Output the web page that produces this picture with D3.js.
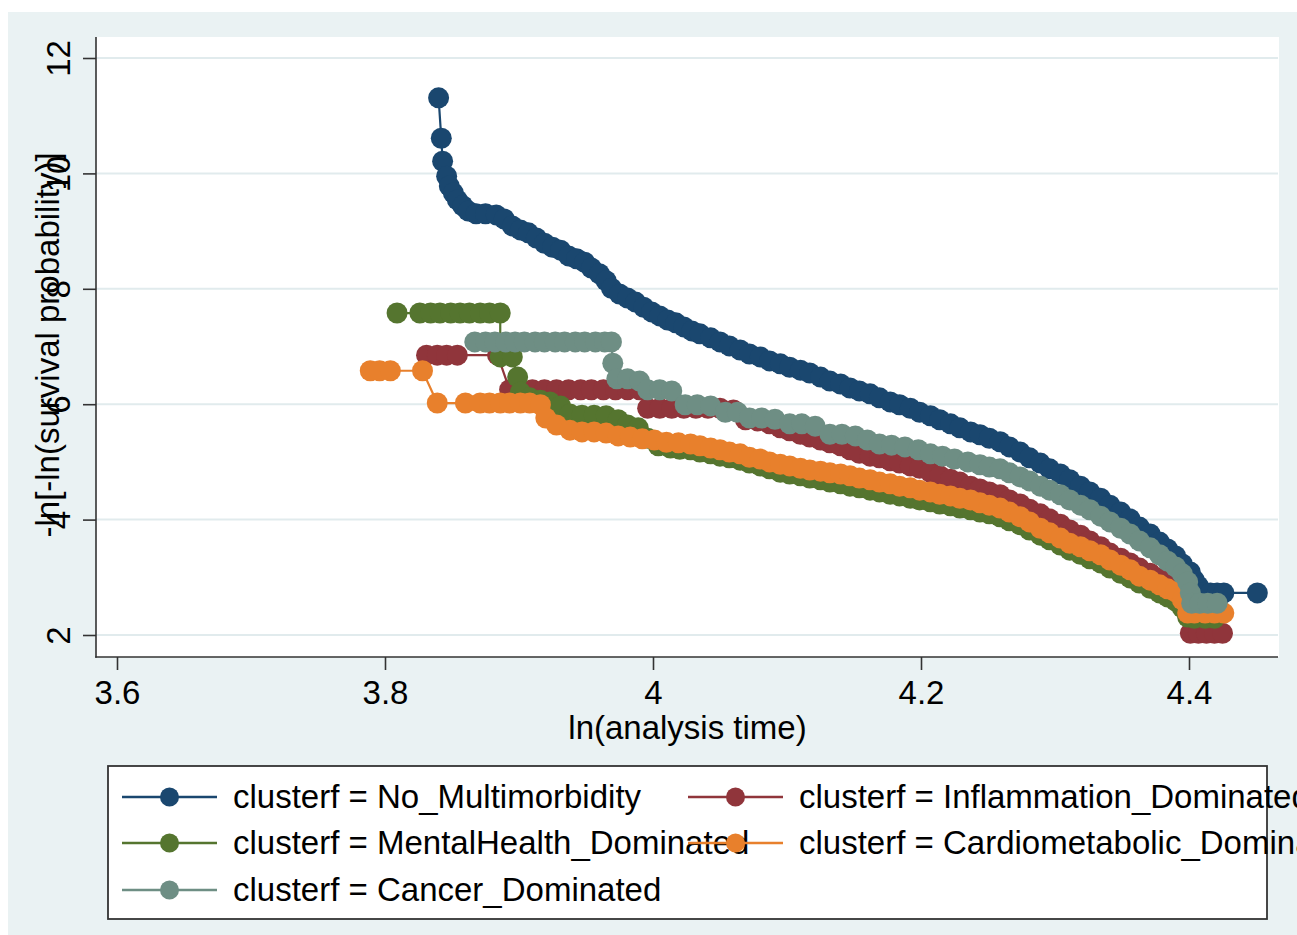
<!DOCTYPE html>
<html>
<head>
<meta charset="utf-8">
<script src="https://cdn.jsdelivr.net/npm/d3@7"></script>
<style>
  html, body { margin: 0; padding: 0; background: #ffffff; }
  svg { display: block; font-family: "Liberation Sans", Arial, Helvetica, sans-serif; }
</style>
</head>
<body>
<svg id="chart" width="1297" height="935"></svg>
<script>
// Log-log survival curves by multimorbidity cluster: [ln(analysis time), -ln(-ln(S))]
const clusterLabels = [
  "clusterf = No_Multimorbidity",
  "clusterf = Inflammation_Dominated",
  "clusterf = MentalHealth_Dominated",
  "clusterf = Cardiometabolic_Dominated",
  "clusterf = Cancer_Dominated"
];

const noMultimorbidity = [
  [3.840,11.31],[3.842,10.61],[3.843,10.21],[3.846,9.95],[3.848,9.78],[3.851,9.66],[3.854,9.54],
  [3.858,9.44],[3.862,9.35],[3.868,9.30],[3.875,9.30],[3.883,9.28],[3.889,9.21],[3.895,9.09],
  [3.901,9.02],[3.907,8.97],[3.913,8.88],[3.919,8.79],[3.925,8.72],[3.931,8.67],[3.937,8.57],
  [3.943,8.52],[3.949,8.46],[3.954,8.36],[3.960,8.26],[3.965,8.14],[3.969,8.01],[3.975,7.91],
  [3.981,7.84],[3.987,7.77],[3.993,7.68],[3.999,7.60],[4.005,7.53],[4.011,7.46],[4.017,7.41],
  [4.023,7.34],[4.029,7.27],[4.035,7.22],[4.043,7.15],[4.050,7.08],[4.057,7.01],[4.065,6.94],
  [4.072,6.87],[4.080,6.82],[4.087,6.75],[4.095,6.70],[4.102,6.64],[4.110,6.59],[4.117,6.54],
  [4.125,6.47],[4.132,6.40],[4.140,6.35],[4.147,6.28],[4.154,6.23],[4.162,6.18],[4.169,6.11],
  [4.177,6.04],[4.184,5.99],[4.192,5.93],[4.199,5.86],[4.207,5.80],[4.214,5.73],[4.222,5.66],
  [4.229,5.59],[4.237,5.52],[4.244,5.47],[4.251,5.41],[4.259,5.35],[4.266,5.26],[4.274,5.17],
  [4.281,5.07],[4.289,4.98],[4.296,4.88],[4.304,4.79],[4.311,4.69],[4.319,4.58],[4.326,4.48],
  [4.334,4.37],[4.341,4.25],[4.349,4.13],[4.356,4.01],[4.363,3.87],[4.371,3.75],[4.378,3.61],
  [4.384,3.49],[4.390,3.37],[4.395,3.23],[4.401,3.09],[4.404,2.95],[4.407,2.85],[4.410,2.73],
  [4.416,2.73],[4.421,2.73],[4.426,2.73],[4.451,2.73]
];

const inflammationDominated = [
  [3.831,6.85],[3.839,6.85],[3.846,6.85],[3.854,6.85],[3.884,6.85],[3.893,6.25],[3.901,6.25],
  [3.910,6.25],[3.919,6.25],[3.928,6.25],[3.937,6.25],[3.946,6.25],[3.954,6.25],[3.963,6.25],
  [3.972,6.25],[3.981,6.25],[3.990,6.25],[3.996,5.93],[4.005,5.93],[4.014,5.93],[4.023,5.93],
  [4.032,5.93],[4.041,5.93],[4.050,5.93],[4.060,5.90],[4.069,5.73],[4.078,5.71],[4.087,5.66],
  [4.095,5.59],[4.102,5.54],[4.110,5.48],[4.117,5.43],[4.125,5.38],[4.132,5.33],[4.140,5.28],
  [4.147,5.21],[4.154,5.15],[4.162,5.10],[4.169,5.07],[4.177,5.02],[4.184,4.98],[4.192,4.93],
  [4.199,4.89],[4.207,4.82],[4.214,4.76],[4.222,4.70],[4.229,4.65],[4.237,4.58],[4.244,4.53],
  [4.251,4.48],[4.259,4.43],[4.266,4.34],[4.274,4.27],[4.281,4.18],[4.289,4.10],[4.296,4.01],
  [4.304,3.92],[4.311,3.82],[4.319,3.73],[4.326,3.63],[4.334,3.53],[4.341,3.42],[4.349,3.33],
  [4.356,3.25],[4.363,3.16],[4.371,3.07],[4.378,2.99],[4.384,2.92],[4.390,2.85],[4.395,2.64],
  [4.399,2.35],[4.401,2.03],[4.407,2.03],[4.413,2.03],[4.419,2.03],[4.425,2.03]
];

const mentalHealthDominated = [
  [3.809,7.58],[3.826,7.58],[3.834,7.58],[3.841,7.58],[3.849,7.58],[3.856,7.58],[3.863,7.58],
  [3.871,7.58],[3.878,7.58],[3.886,7.58],[3.886,6.82],[3.895,6.82],[3.899,6.47],[3.901,6.21],
  [3.908,6.11],[3.916,6.07],[3.923,6.04],[3.931,5.97],[3.938,5.83],[3.947,5.81],[3.956,5.81],
  [3.965,5.80],[3.974,5.73],[3.981,5.64],[3.989,5.59],[3.996,5.41],[4.004,5.28],[4.013,5.24],
  [4.020,5.22],[4.028,5.21],[4.035,5.17],[4.043,5.14],[4.050,5.10],[4.057,5.07],[4.065,5.03],
  [4.072,4.98],[4.080,4.93],[4.087,4.88],[4.095,4.82],[4.102,4.79],[4.110,4.76],[4.117,4.72],
  [4.125,4.69],[4.132,4.65],[4.140,4.62],[4.147,4.58],[4.154,4.55],[4.162,4.51],[4.169,4.48],
  [4.177,4.44],[4.184,4.41],[4.192,4.37],[4.199,4.34],[4.207,4.31],[4.214,4.27],[4.222,4.24],
  [4.229,4.20],[4.237,4.17],[4.244,4.13],[4.251,4.10],[4.259,4.05],[4.266,3.98],[4.274,3.91],
  [4.281,3.82],[4.289,3.73],[4.296,3.65],[4.304,3.56],[4.311,3.47],[4.319,3.40],[4.326,3.32],
  [4.334,3.25],[4.341,3.16],[4.349,3.07],[4.356,2.99],[4.363,2.90],[4.371,2.81],[4.378,2.73],
  [4.384,2.66],[4.390,2.59],[4.395,2.47],[4.399,2.31],[4.404,2.29],[4.412,2.29],[4.419,2.29]
];

const cardiometabolicDominated = [
  [3.789,6.58],[3.796,6.58],[3.804,6.58],[3.828,6.58],[3.839,6.02],[3.860,6.02],[3.871,6.02],
  [3.878,6.02],[3.886,6.02],[3.893,6.02],[3.901,6.02],[3.908,6.02],[3.916,5.99],[3.920,5.76],
  [3.928,5.64],[3.938,5.55],[3.947,5.52],[3.956,5.52],[3.965,5.50],[3.974,5.45],[3.983,5.43],
  [3.992,5.40],[4.001,5.38],[4.010,5.34],[4.019,5.33],[4.028,5.31],[4.035,5.28],[4.043,5.24],
  [4.050,5.21],[4.057,5.17],[4.065,5.14],[4.072,5.08],[4.080,5.05],[4.087,5.00],[4.095,4.96],
  [4.102,4.93],[4.110,4.89],[4.117,4.86],[4.125,4.84],[4.132,4.81],[4.140,4.79],[4.147,4.76],
  [4.154,4.72],[4.162,4.69],[4.169,4.65],[4.177,4.62],[4.184,4.58],[4.192,4.55],[4.199,4.51],
  [4.207,4.48],[4.214,4.44],[4.222,4.41],[4.229,4.37],[4.237,4.34],[4.244,4.29],[4.251,4.25],
  [4.259,4.20],[4.266,4.13],[4.274,4.05],[4.281,3.96],[4.289,3.85],[4.296,3.77],[4.304,3.68],
  [4.311,3.59],[4.319,3.53],[4.326,3.46],[4.334,3.39],[4.341,3.30],[4.349,3.21],[4.356,3.13],
  [4.363,3.02],[4.371,2.95],[4.378,2.87],[4.384,2.80],[4.390,2.75],[4.395,2.61],[4.399,2.38],
  [4.404,2.38],[4.412,2.38],[4.419,2.38],[4.426,2.38]
];

const cancerDominated = [
  [3.867,7.08],[3.875,7.08],[3.882,7.08],[3.890,7.08],[3.897,7.08],[3.904,7.08],[3.912,7.08],
  [3.919,7.08],[3.927,7.08],[3.934,7.08],[3.942,7.08],[3.949,7.08],[3.957,7.08],[3.964,7.08],
  [3.969,7.08],[3.970,6.71],[3.973,6.44],[3.981,6.44],[3.990,6.40],[3.996,6.25],[4.005,6.25],
  [4.014,6.23],[4.024,5.99],[4.033,5.99],[4.043,5.97],[4.054,5.86],[4.063,5.86],[4.072,5.76],
  [4.081,5.76],[4.091,5.74],[4.102,5.66],[4.111,5.66],[4.121,5.62],[4.132,5.48],[4.141,5.48],
  [4.151,5.45],[4.160,5.38],[4.169,5.31],[4.178,5.29],[4.188,5.26],[4.198,5.21],[4.207,5.14],
  [4.216,5.10],[4.225,5.05],[4.235,5.00],[4.244,4.95],[4.251,4.91],[4.259,4.88],[4.266,4.81],
  [4.274,4.74],[4.281,4.67],[4.289,4.58],[4.296,4.51],[4.304,4.43],[4.311,4.34],[4.319,4.25],
  [4.326,4.17],[4.334,4.06],[4.341,3.96],[4.349,3.85],[4.356,3.75],[4.363,3.63],[4.371,3.51],
  [4.378,3.39],[4.384,3.28],[4.390,3.18],[4.395,3.06],[4.399,2.92],[4.401,2.73],[4.402,2.55],
  [4.408,2.55],[4.414,2.55],[4.421,2.55]
];

const xTickValues = [3.6, 3.8, 4.0, 4.2, 4.4];
const xTickLabels = ["3.6", "3.8", "4", "4.2", "4.4"];
const yTickValues = [2, 4, 6, 8, 10, 12];
const yTickLabels = ["2", "4", "6", "8", "10", "12"];
const xTitle = "ln(analysis time)";
const yTitle = "-ln[-ln(survival probability)]";

// ---- drawing ----
const W = 1297, H = 935;
const FONT = 33;
const bg = "#eaf2f3";
const ink = "#333333";
const palette = ["#1a476f", "#90353b", "#55752f", "#e8802c", "#6e8e84"];
const seriesData = [noMultimorbidity, inflammationDominated, mentalHealthDominated,
                    cardiometabolicDominated, cancerDominated];

const svg = d3.select("#chart");

// graph region
svg.append("rect").attr("x", 8).attr("y", 12)
  .attr("width", W - 8).attr("height", H - 12).attr("fill", bg);

const plot = { left: 96, right: 1279, top: 37, bottom: 657 };
svg.append("rect").attr("x", plot.left).attr("y", plot.top)
  .attr("width", plot.right - plot.left).attr("height", plot.bottom - plot.top)
  .attr("fill", "#ffffff");

const x = d3.scaleLinear().domain([3.6, 4.4]).range([117, 1189]);
const y = d3.scaleLinear().domain([2, 12]).range([635, 58]);

// horizontal grid
svg.append("g").selectAll("line").data(yTickValues).join("line")
  .attr("x1", plot.left).attr("x2", plot.right - 1)
  .attr("y1", d => y(d)).attr("y2", d => y(d))
  .attr("stroke", "#e1ebed").attr("stroke-width", 2);

// y axis
const yAxis = svg.append("g").attr("transform", `translate(${plot.left},0)`)
  .call(d3.axisLeft(y).tickValues(yTickValues).tickSize(13)
    .tickFormat((d, i) => yTickLabels[i]));
yAxis.select(".domain").remove();
yAxis.selectAll(".tick line").attr("stroke", ink).attr("stroke-width", 1.6);
yAxis.selectAll(".tick text")
  .attr("x", null).attr("dy", null)
  .attr("transform", "translate(-26,0) rotate(-90)")
  .attr("text-anchor", "middle")
  .attr("fill", "#000").style("font-size", FONT + "px")
  .style("font-family", "'Liberation Sans', Arial, Helvetica, sans-serif");
svg.append("line").attr("x1", plot.left).attr("x2", plot.left)
  .attr("y1", plot.top).attr("y2", plot.bottom + 0.8)
  .attr("stroke", ink).attr("stroke-width", 1.6);

// x axis
const xAxis = svg.append("g").attr("transform", `translate(0,${plot.bottom})`)
  .call(d3.axisBottom(x).tickValues(xTickValues).tickSize(13)
    .tickFormat((d, i) => xTickLabels[i]));
xAxis.select(".domain").remove();
xAxis.selectAll(".tick line").attr("stroke", ink).attr("stroke-width", 1.6);
xAxis.selectAll(".tick text")
  .attr("y", 47).attr("dy", null)
  .attr("fill", "#000").style("font-size", FONT + "px")
  .style("font-family", "'Liberation Sans', Arial, Helvetica, sans-serif");
svg.append("line").attr("x1", plot.left - 0.8).attr("x2", plot.right - 1)
  .attr("y1", plot.bottom).attr("y2", plot.bottom)
  .attr("stroke", ink).attr("stroke-width", 1.6);

// axis titles
svg.append("text")
  .attr("transform", `translate(59,345) rotate(-90)`)
  .attr("text-anchor", "middle").style("font-size", FONT + "px")
  .text(yTitle);
svg.append("text")
  .attr("x", (plot.left + plot.right) / 2).attr("y", 739)
  .attr("text-anchor", "middle").style("font-size", FONT + "px")
  .text(xTitle);

// curves
const line = d3.line().x(d => x(d[0])).y(d => y(d[1]));
const R = 10.5;
seriesData.forEach((data, i) => {
  const g = svg.append("g");
  g.append("path").datum(data).attr("d", line)
    .attr("fill", "none").attr("stroke", palette[i]).attr("stroke-width", 2.2);
  g.selectAll("circle").data(data).join("circle")
    .attr("cx", d => x(d[0])).attr("cy", d => y(d[1])).attr("r", R)
    .attr("fill", palette[i]);
});

// legend
const legend = svg.append("g");
legend.append("rect").attr("x", 108).attr("y", 766).attr("width", 1159).attr("height", 153)
  .attr("fill", "#ffffff").attr("stroke", ink).attr("stroke-width", 1.8);
const colX = [122, 688];
const rowY = [797, 843, 890];
clusterLabels.forEach((label, i) => {
  const cx = colX[i % 2], cy = rowY[Math.floor(i / 2)];
  legend.append("line").attr("x1", cx).attr("x2", cx + 95)
    .attr("y1", cy).attr("y2", cy)
    .attr("stroke", palette[i]).attr("stroke-width", 2.4);
  legend.append("circle").attr("cx", cx + 47.5).attr("cy", cy).attr("r", 9.5)
    .attr("fill", palette[i]);
  legend.append("text").attr("x", cx + 111).attr("y", cy + 11)
    .style("font-size", FONT + "px").text(label);
});
</script>
</body>
</html>
